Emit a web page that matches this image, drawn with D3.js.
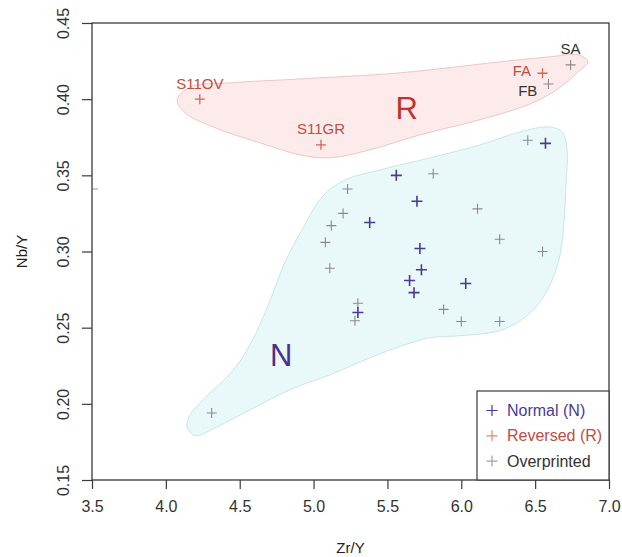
<!DOCTYPE html>
<html>
<head>
<meta charset="utf-8">
<script src="https://cdn.jsdelivr.net/npm/d3@7"></script>
<style>
  html, body { margin: 0; padding: 0; background: #fff; }
  svg { display: block; font-family: "Liberation Sans", Arial, sans-serif; }
</style>
</head>
<body>
<svg id="chart" width="622" height="557"></svg>
<script>
// Axis ticks
const xTicks = [3.5, 4.0, 4.5, 5.0, 5.5, 6.0, 6.5, 7.0];
const yTicks = [0.15, 0.20, 0.25, 0.30, 0.35, 0.40, 0.45];

// Samples: [Zr/Y, Nb/Y]
const normalPts = [
  [5.56, 0.350], [5.70, 0.333], [5.38, 0.319], [5.72, 0.302], [5.73, 0.288],
  [5.65, 0.281], [5.68, 0.273], [5.30, 0.260], [6.03, 0.279], [6.57, 0.371]
];
const reversedPts = [
  [4.23, 0.400], [5.05, 0.370], [6.55, 0.417]
];
const overprintedPts = [
  [5.23, 0.341], [5.20, 0.325], [5.12, 0.317], [5.08, 0.306], [5.11, 0.289],
  [5.30, 0.266], [5.28, 0.2545], [5.81, 0.351], [6.11, 0.328], [6.26, 0.308],
  [6.55, 0.300], [5.88, 0.262], [6.00, 0.254], [6.26, 0.254], [6.45, 0.373],
  [4.31, 0.194], [6.74, 0.4225], [6.59, 0.410]
];

// Sample names: [text, Zr/Y, Nb/Y, group]
const sampleLabels = [
  ["S11OV", 4.23, 0.4105, "R"],
  ["S11GR", 5.05, 0.3805, "R"],
  ["FA", 6.41, 0.4185, "R"],
  ["FB", 6.45, 0.4055, "O"],
  ["SA", 6.74, 0.4335, "O"]
];

// Field outlines: [Zr/Y, Nb/Y]
const fieldR = [
  [4.077, 0.3995], [4.165, 0.408], [4.436, 0.4107], [4.909, 0.4133], [5.586, 0.4173],
  [6.263, 0.4245], [6.601, 0.4278], [6.790, 0.4291], [6.858, 0.4245], [6.790, 0.4179],
  [6.655, 0.4068], [6.466, 0.3969], [6.128, 0.3865], [5.721, 0.3766], [5.383, 0.3668],
  [5.112, 0.3615], [4.909, 0.3634], [4.639, 0.3713], [4.334, 0.3812], [4.131, 0.391]
];
const fieldN = [
  [6.588, 0.3818], [6.683, 0.3785], [6.716, 0.3667], [6.709, 0.3437], [6.696, 0.3208],
  [6.669, 0.2978], [6.601, 0.2781], [6.500, 0.2630], [6.365, 0.2525], [6.229, 0.2473],
  [5.992, 0.2447], [5.789, 0.2434], [5.620, 0.2388], [5.383, 0.2303], [5.112, 0.2191],
  [4.841, 0.2093], [4.571, 0.1961], [4.334, 0.1843], [4.199, 0.1791], [4.145, 0.1843],
  [4.165, 0.1929], [4.267, 0.2040], [4.470, 0.2237], [4.605, 0.2454], [4.707, 0.2683],
  [4.808, 0.2933], [4.930, 0.3156], [5.058, 0.3359], [5.214, 0.3470], [5.451, 0.3536],
  [5.789, 0.3615], [6.128, 0.3700], [6.398, 0.3785]
];

// Field letters: [text, Zr/Y, Nb/Y]
const fieldLetters = [["R", 5.63, 0.394], ["N", 4.78, 0.2315]];

const legendItems = ["Normal (N)", "Reversed (R)", "Overprinted"];

const colors = {
  N: "#473a96", R: "#cc6a55", O: "#8a8a8a",
  Ntext: "#4a3a94", Rtext: "#bf4d42", Otext: "#333333",
  Rletter: "#c4302b", Nletter: "#4b2f91"
};

const svg = d3.select("#chart");
const margin = { left: 92, right: 13, top: 23, bottom: 77 };
const W = 622, H = 557;

const x = d3.scaleLinear().domain([3.5, 7.0]).range([margin.left, W - margin.right]);
const y = d3.scaleLinear().domain([0.15, 0.45]).range([H - margin.bottom, margin.top]);

// Fields
const outline = d3.line().x(d => x(d[0])).y(d => y(d[1])).curve(d3.curveCatmullRomClosed.alpha(0.5));
svg.append("path").attr("d", outline(fieldR))
  .attr("fill", "#fdebeb").attr("stroke", "#efc6c6").attr("stroke-width", 1);
svg.append("path").attr("d", outline(fieldN))
  .attr("fill", "#e9f8f8").attr("stroke", "#c6e8e8").attr("stroke-width", 1);

// Field letters
svg.selectAll(".field-letter").data(fieldLetters).join("text")
  .attr("x", d => x(d[1])).attr("y", d => y(d[2]))
  .attr("text-anchor", "middle").attr("dominant-baseline", "central")
  .attr("font-size", 31)
  .attr("fill", d => d[0] === "R" ? colors.Rletter : colors.Nletter)
  .text(d => d[0]);

// Crosses
function cross(s) { return `M${-s},0H${s}M0,${-s}V${s}`; }
function drawPts(pts, color, size, sw) {
  svg.append("g").selectAll("path").data(pts).join("path")
    .attr("transform", d => `translate(${x(d[0])},${y(d[1])})`)
    .attr("d", cross(size)).attr("stroke", color).attr("stroke-width", sw).attr("fill", "none");
}
drawPts(overprintedPts, colors.O, 5, 1.1);
drawPts(reversedPts, colors.R, 5, 1.3);
drawPts(normalPts, colors.N, 5.5, 1.6);

// Sample names
svg.selectAll(".sample-label").data(sampleLabels).join("text")
  .attr("x", d => x(d[1])).attr("y", d => y(d[2]))
  .attr("text-anchor", "middle").attr("dominant-baseline", "central")
  .attr("font-size", 15)
  .attr("fill", d => d[3] === "R" ? colors.Rtext : colors.Otext)
  .text(d => d[0]);

// Axes
const axisColor = "#3a3a3a";
const gx = svg.append("g").attr("transform", `translate(0,${y(0.15)})`)
  .call(d3.axisBottom(x).tickValues(xTicks).tickFormat(d3.format(".1f")).tickSize(9).tickPadding(12));
const gy = svg.append("g").attr("transform", `translate(${x(3.5)},0)`)
  .call(d3.axisLeft(y).tickValues(yTicks).tickFormat(d3.format(".2f")).tickSize(10));
[gx, gy].forEach(g => {
  g.select(".domain").remove();
  g.selectAll("line").attr("stroke", axisColor).attr("stroke-width", 1.2);
  g.selectAll("text").attr("font-size", 16).attr("fill", "#333")
    .attr("font-family", "Liberation Sans, Arial, sans-serif");
});
// y tick labels read upward, centred on their ticks
gy.selectAll(".tick text")
  .attr("transform", "rotate(-90)")
  .attr("text-anchor", "middle")
  .attr("dominant-baseline", "central")
  .attr("x", 0).attr("y", -29).attr("dy", 0);

// Stray short tick inside the frame
svg.append("line")
  .attr("x1", x(3.5)).attr("x2", x(3.5) + 6)
  .attr("y1", y(0.341)).attr("y2", y(0.341))
  .attr("stroke", "#999").attr("stroke-width", 1);

// Frame
svg.append("rect")
  .attr("x", x(3.5)).attr("y", y(0.45))
  .attr("width", x(7.0) - x(3.5)).attr("height", y(0.15) - y(0.45))
  .attr("fill", "none").attr("stroke", axisColor).attr("stroke-width", 1.3);

// Axis titles
svg.append("text")
  .attr("x", (x(3.5) + x(7.0)) / 2).attr("y", 547)
  .attr("text-anchor", "middle").attr("dominant-baseline", "central")
  .attr("font-size", 15).attr("fill", "#222").text("Zr/Y");
svg.append("text")
  .attr("transform", `translate(21,${(y(0.15) + y(0.45)) / 2}) rotate(-90)`)
  .attr("text-anchor", "middle").attr("dominant-baseline", "central")
  .attr("font-size", 15).attr("fill", "#222").text("Nb/Y");

// Legend
const lgLeft = 477, lgTop = 391;
const lg = svg.append("g");
lg.append("rect")
  .attr("x", lgLeft).attr("y", lgTop)
  .attr("width", x(7.0) - lgLeft).attr("height", y(0.15) - lgTop)
  .attr("fill", "#fff").attr("stroke", axisColor).attr("stroke-width", 1.2);
const lgColors = [colors.N, "#e08a6a", "#a0a0a0"];
const lgText = [colors.Ntext, colors.Rtext, colors.Otext];
legendItems.forEach((t, i) => {
  const cy = lgTop + 19.5 + i * 25.3;
  lg.append("path").attr("transform", `translate(${lgLeft + 15},${cy})`)
    .attr("d", cross(5.5)).attr("stroke", lgColors[i]).attr("stroke-width", 1.2);
  lg.append("text").attr("x", lgLeft + 30).attr("y", cy)
    .attr("dominant-baseline", "central").attr("font-size", 16)
    .attr("fill", lgText[i]).text(t);
});
</script>
</body>
</html>
